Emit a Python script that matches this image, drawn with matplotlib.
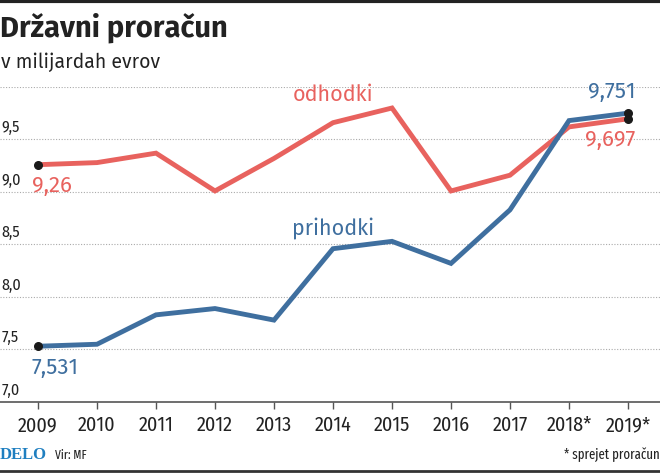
import matplotlib
matplotlib.use("Agg")
from matplotlib import pyplot as plt

years = [2009, 2010, 2011, 2012, 2013, 2014, 2015, 2016, 2017, 2018, 2019]
year_labels = ["2009", "2010", "2011", "2012", "2013", "2014", "2015",
               "2016", "2017", "2018*", "2019*"]
odhodki = [9.26, 9.28, 9.37, 9.01, 9.32, 9.66, 9.80, 9.01, 9.16, 9.62, 9.697]
prihodki = [7.531, 7.55, 7.83, 7.89, 7.78, 8.46, 8.53, 8.32, 8.83, 9.68, 9.751]
y_ticks = [7.0, 7.5, 8.0, 8.5, 9.0, 9.5]

RED = "#e8625e"
BLUE = "#3f6f9f"
TXT = "#222222"

FIRA = ["Fira Sans", "DejaVu Sans"]
FIRA_C = ["Fira Sans Condensed", "DejaVu Sans"]
FIRA_XC = ["Fira Sans Extra Condensed", "DejaVu Sans"]
plt.rcParams['font.family'] = FIRA_C

fig = plt.figure(figsize=(6.6, 4.73), dpi=100)
ax = fig.add_axes([0, 71 / 473, 1, 315 / 473])

# 2009 lezi na x=38 px, korak 59 px
x0 = 2009 - 38 / 59
ax.set_xlim(x0, x0 + 660 / 59)
ax.set_ylim(7.0, 10.0)

for v in y_ticks[1:] + [10.0]:
    ax.axhline(v, color="#aaaaaa", lw=0.8, ls=(0, (1, 1.5)), zorder=1)
for v in y_ticks:
    ax.text(0.002, v + 0.04, f"{v:.1f}".replace(".", ","), transform=ax.get_yaxis_transform(),
            fontsize=11.5, family=FIRA_C, color=TXT, ha="left", va="bottom")

ax.plot(years, odhodki, color=RED, lw=3.5, solid_joinstyle="miter", zorder=3)
ax.plot(years, prihodki, color=BLUE, lw=3.5, solid_joinstyle="miter", zorder=3)
ax.scatter([years[0], years[-1]], [odhodki[0], odhodki[-1]], s=30, color="#1a1a1a", zorder=4)
ax.scatter([years[0], years[-1]], [prihodki[0], prihodki[-1]], s=30, color="#1a1a1a", zorder=4)

num = dict(family=FIRA, fontsize=16)
ax.text(years[0] - 0.11, odhodki[0] - 0.1, "9,26", color=RED, ha="left", va="top", **num)
ax.text(years[0] - 0.11, prihodki[0] - 0.1, "7,531", color=BLUE, ha="left", va="top", **num)
ax.text(years[-1] + 0.13, prihodki[-1] + 0.1, "9,751", color=BLUE, ha="right", va="bottom", **num)
ax.text(years[-1] + 0.13, odhodki[-1] - 0.1, "9,697", color=RED, ha="right", va="top", **num)

lab = dict(family=FIRA, fontsize=15.5)
ax.text(2014.0, 9.93, "odhodki", color=RED, ha="center", va="center", **lab)
ax.text(2014.0, 8.66, "prihodki", color=BLUE, ha="center", va="center", **lab)

for s in ["top", "left", "right"]:
    ax.spines[s].set_visible(False)
ax.spines["bottom"].set_color("#555555")
ax.spines["bottom"].set_linewidth(1.2)
ax.set_yticks([])
ax.set_xticks(years)
ax.set_xticklabels(year_labels)
ax.tick_params(axis="x", direction="out", length=5, width=1, color="#555555",
               labelsize=14.5, labelcolor=TXT, pad=5)

fig.text(0.0, 1 - 28 / 473, "Državni proračun", fontsize=21, fontweight="bold",
         family=FIRA, color=TXT, va="center", ha="left")
fig.text(0.002, 1 - 62 / 473, "v milijardah evrov", fontsize=14,
         family=FIRA, color=TXT, va="center", ha="left")

fig.text(0.0, 1 - 455 / 473, "DELO", fontsize=12, fontweight="bold", family=["Liberation Serif", "DejaVu Serif"],
         color="#1f7fc0", va="center", ha="left")
fig.text(55 / 660, 1 - 455 / 473, "Vir: MF", fontsize=9, family=FIRA_XC, color=TXT, va="center", ha="left")
fig.text(1.0, 1 - 455 / 473, "* sprejet proračun", fontsize=10, family=FIRA_XC, color=TXT, va="center", ha="right")

# temni črti zgoraj in spodaj
fig.add_artist(plt.Line2D([0, 1], [1 - 1.5 / 473, 1 - 1.5 / 473], color="#222222", lw=3))
fig.add_artist(plt.Line2D([0, 1], [2 / 473, 2 / 473], color="#333333", lw=2))

fig.savefig("out.png", dpi=100)
